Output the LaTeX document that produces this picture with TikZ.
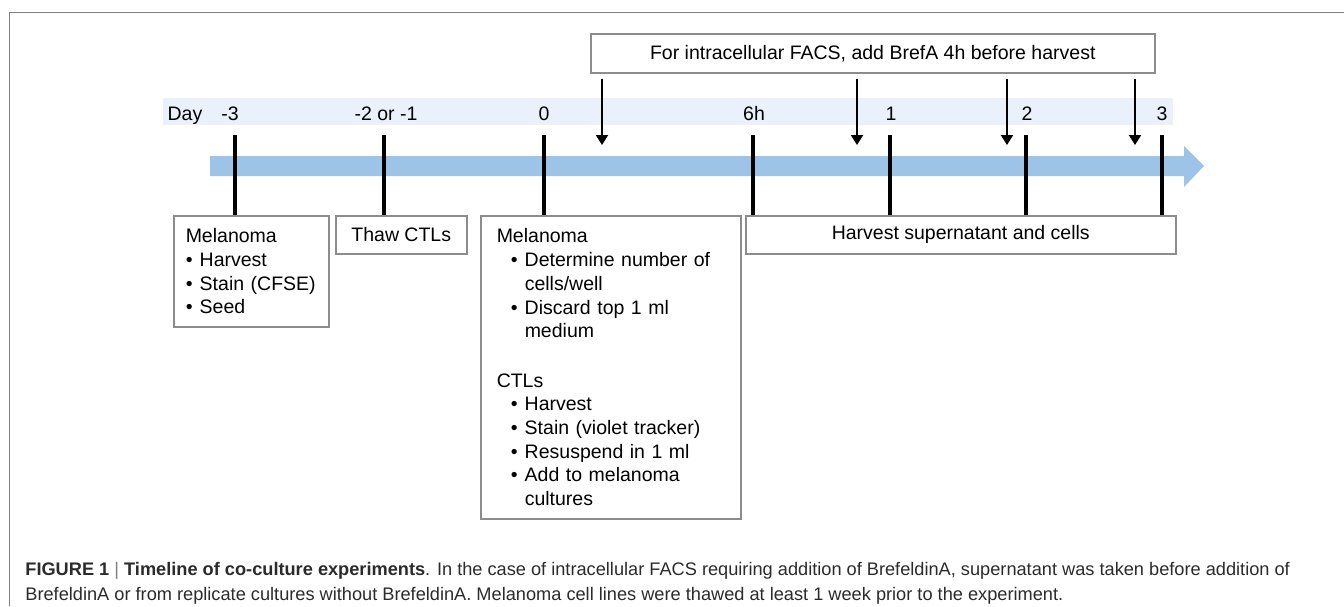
\documentclass[tikz,border=0pt]{standalone}
\usepackage{fontspec}
\setmainfont{Liberation Sans}
\usetikzlibrary{arrows.meta}

\definecolor{bandblue}{HTML}{EAF1FA}
\definecolor{arrowblue}{HTML}{9DC3E6}
\definecolor{boxgray}{HTML}{8C8C8C}
\definecolor{framegray}{HTML}{808080}
\definecolor{captext}{HTML}{2B2B2B}

\newcommand{\bul}{\makebox[7pt][l]{\textbullet}}

\tikzset{
  stepbox/.style={draw=boxgray, line width=0.75pt, anchor=north west,
    font=\fontsize{9.75}{11.85}\selectfont, align=left},
  daylabel/.style={anchor=base, font=\fontsize{9.75}{11.85}\selectfont},
  tick/.style={line width=2pt},
  brefa/.style={line width=1pt, -{Triangle[width=6pt,length=5pt]}, shorten <=2.5pt},
  caption/.style={anchor=base west, inner sep=0pt, text=captext,
    font=\fontsize{9.1}{11}\selectfont},
}

\begin{document}
\begin{tikzpicture}[x=0.5pt, y=-0.5pt]
  \useasboundingbox (0,0) rectangle (1344,606);

  % frame
  \draw[framegray, line width=0.5pt] (1344,12) -- (9,12) -- (9,606);

  % day band and time arrow
  \fill[bandblue] (163,98) rectangle (1173,125);
  \fill[arrowblue] (210,156) -- (1184,156) -- (1184,146) -- (1204,166)
    -- (1184,187) -- (1184,176) -- (210,176) -- cycle;

  \node[daylabel] (day)  at (185,120) {Day};
  \node[daylabel] (dm3)  at (230,120) {-3};
  \node[daylabel] (dm2)  at (386,120) {-2 or -1};
  \node[daylabel] (d0)   at (544,120) {0};
  \node[daylabel] (d6h)  at (754,120) {6h};
  \node[daylabel] (d1)   at (891,120) {1};
  \node[daylabel] (d2)   at (1027,120) {2};
  \node[daylabel] (d3)   at (1162,120) {3};

  % boxes
  \node[stepbox, inner xsep=6pt, text width=65.5pt, minimum height=55.5pt]
    (mel) at (173,215) {Melanoma\\ \bul Harvest\\ \bul Stain (CFSE)\\ \bul Seed};
  \node[stepbox, align=center, minimum width=65.5pt, minimum height=19pt]
    (thaw) at (335,215) {Thaw CTLs};
  \node[stepbox, inner xsep=8pt, text width=114pt, minimum height=151.5pt]
    (coc) at (480,215) {Melanoma\\
      \hspace*{7pt}\bul Determine number of\\
      \hspace*{14pt}cells/well\\
      \hspace*{7pt}\bul Discard top 1 ml\\
      \hspace*{14pt}medium\\[12.8pt]
      CTLs\\
      \hspace*{7pt}\bul Harvest\\
      \hspace*{7pt}\bul Stain (violet tracker)\\
      \hspace*{7pt}\bul Resuspend in 1 ml\\
      \hspace*{7pt}\bul Add to melanoma\\
      \hspace*{14pt}cultures};
  \node[stepbox, align=center, minimum width=215pt, minimum height=19pt]
    (harv) at (745,215) {Harvest supernatant and cells};
  \node[stepbox, align=center, minimum width=282pt, minimum height=19.5pt]
    (facs) at (590,33) {For intracellular FACS, add BrefA 4h before harvest};

  % ticks
  \coordinate (tk1) at (235,135);
  \coordinate (tk2) at (384,135);
  \coordinate (tk3) at (544,135);
  \coordinate (tk4) at (753,135);
  \coordinate (tk5) at (890,135);
  \coordinate (tk6) at (1026,135);
  \coordinate (tk7) at (1162,135);
  \draw[tick] (tk1) -- (tk1 |- mel.north);
  \draw[tick] (tk2) -- (tk2 |- thaw.north);
  \draw[tick] (tk3) -- (tk3 |- coc.north);
  \foreach \t in {tk4,tk5,tk6,tk7}
    \draw[tick] (\t) -- (\t |- harv.north);

  % BrefA arrows
  \coordinate (a1) at (602,145);
  \coordinate (a2) at (857,145);
  \coordinate (a3) at (1007,145);
  \coordinate (a4) at (1135,145);
  \foreach \a in {a1,a2,a3,a4}
    \draw[brefa] (facs.south -| \a) -- (\a);

  % caption
  \node[caption] (cap1) at (25,575) {\textbf{FIGURE 1} {\color{gray}|} \textbf{Timeline of co-culture experiments}. In the case of intracellular FACS requiring addition of BrefeldinA, supernatant was taken before addition of};
  \node[caption] (cap2) at (25,600) {BrefeldinA or from replicate cultures without BrefeldinA. Melanoma cell lines were thawed at least 1 week prior to the experiment.};
\end{tikzpicture}
\end{document}
